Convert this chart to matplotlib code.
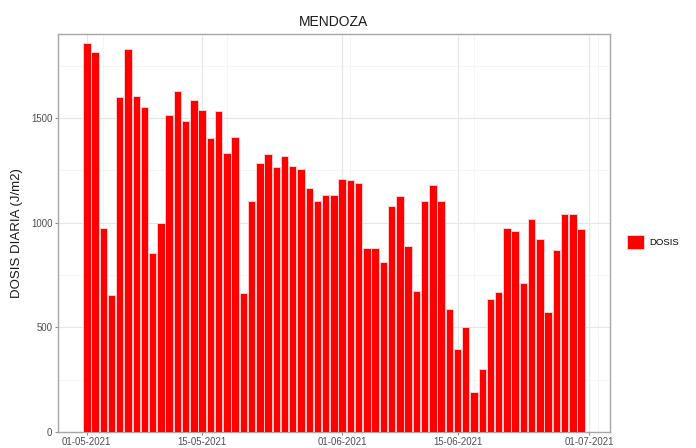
import datetime as dt
import matplotlib
matplotlib.use('Agg')
import matplotlib.pyplot as plt
import matplotlib.dates as mdates
from matplotlib.patches import Patch

plt.rcParams['font.family'] = ['Liberation Sans', 'DejaVu Sans']

start = dt.date(2021, 5, 1)
dias = [start + dt.timedelta(days=i) for i in range(61)]
dosis = [
    1860, 1816, 975, 656, 1603, 1832, 1606, 1552, 856, 1001,
    1514, 1629, 1487, 1587, 1538, 1405, 1533, 1333, 1411, 663,
    1105, 1284, 1330, 1264, 1321, 1270, 1259, 1167, 1103, 1133,
    1133,
    1208, 1203, 1190, 879, 879, 814, 1081, 1127, 887, 673,
    1102, 1179, 1105, 589, 395, 503, 189, 302, 636, 668,
    975, 959, 710, 1017, 924, 575, 868, 1043, 1043, 970,
]
tick_dates = [dt.date(2021, 5, 1), dt.date(2021, 5, 15), dt.date(2021, 6, 1),
              dt.date(2021, 6, 15), dt.date(2021, 7, 1)]
minor_dates = [dt.date(2021, 5, 3), dt.date(2021, 5, 18), dt.date(2021, 6, 2),
               dt.date(2021, 6, 17), dt.date(2021, 7, 2)]

fig = plt.figure(figsize=(6.96, 4.48), dpi=100)
ax = fig.add_axes([0.0833, 0.036, 0.793, 0.888])

ax.bar(dias, dosis, width=0.9, color='#ff0000', edgecolor='#ffcccc', linewidth=0.7, zorder=3)

ax.set_xlim(mdates.date2num(start) - 3.5, mdates.date2num(start) + 63.5)
ax.set_ylim(0, 1902)
ax.set_xticks(tick_dates)
ax.xaxis.set_major_formatter(mdates.DateFormatter('%d-%m-%Y'))
ax.set_xticks(minor_dates, minor=True)
ax.set_yticks([0, 500, 1000, 1500])
ax.set_yticks([250, 750, 1250, 1750], minor=True)

ax.grid(which='major', color='#e6e6e6', linewidth=0.8, zorder=0)
ax.grid(which='minor', color='#f2f2f2', linewidth=0.5, zorder=0)
ax.tick_params(which='major', length=2.5, width=0.8, color='#8c8c8c',
               labelsize=6.9, labelcolor='#4d4d4d', pad=1.5)
ax.tick_params(which='minor', length=0)
for s in ax.spines.values():
    s.set_color('#a6a6a6')
    s.set_linewidth(1)

ax.set_ylabel('DOSIS DIARIA (J/m2)', fontsize=9.5, color='#1a1a1a', labelpad=6)
ax.set_title('MENDOZA', fontsize=10, color='#1a1a1a', pad=6)

fig.legend(handles=[Patch(facecolor='#ff0000', edgecolor='#ffcccc', linewidth=0.7)],
           labels=['DOSIS'], loc='center left', bbox_to_anchor=(0.8887, 0.46),
           frameon=False, fontsize=6.8, handlelength=1.8, handleheight=1.8,
           handletextpad=0.6)

fig.savefig('out.png', dpi=100)
